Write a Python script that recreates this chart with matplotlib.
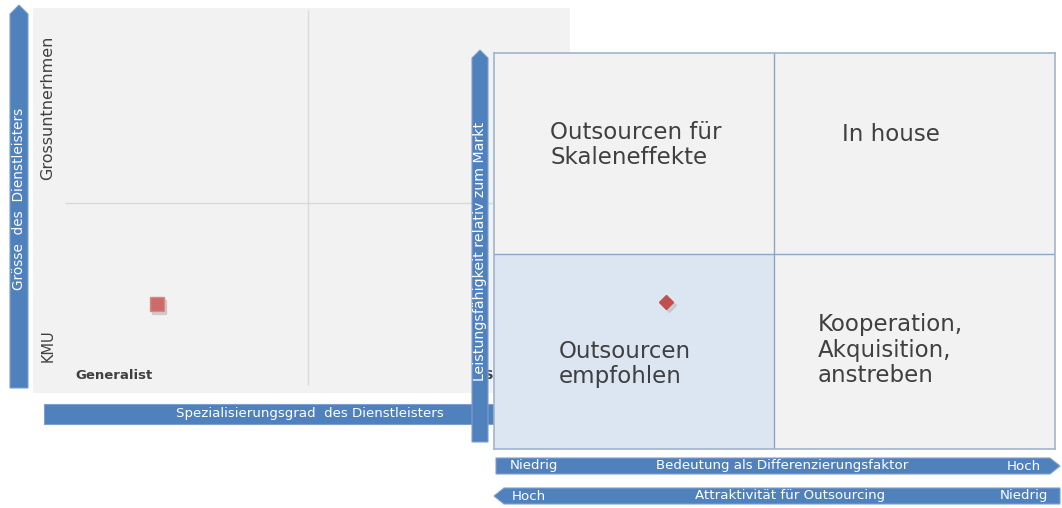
import matplotlib.pyplot as plt
from matplotlib.patches import Polygon, Rectangle

# --- DATEN ---
left_axis_title = "Grösse  des  Dienstleisters"
left_x_title = "Spezialisierungsgrad  des Dienstleisters"
left_y_labels = ["KMU", "Grossuntnerhmen"]
left_x_labels = ["Generalist", "Spezialist"]
left_point = (0.46, 0.46)          # (Spezialisierung, Grösse), Skala 0..2

right_y_title = "Leistungsfähigkeit relativ zum Markt"
right_x_title = "Bedeutung als Differenzierungsfaktor"
right_x_ends = ["Niedrig", "Hoch"]
second_title = "Attraktivität für Outsourcing"
second_ends = ["Hoch", "Niedrig"]
quadrant_labels = ["Outsourcen für\nSkaleneffekte", "In house",
                   "Outsourcen\nempfohlen", "Kooperation,\nAkquisition,\nanstreben"]
quadrant_pos = [(0.20, 1.535), (1.24, 1.59), (0.23, 0.43), (1.155, 0.50)]
right_point = (0.613, 0.742)       # (Differenzierung, Leistungsfähigkeit), Skala 0..2

BLUE = "#4f81bd"
W, H = 1062, 508

fig = plt.figure(figsize=(W / 100, H / 100), dpi=100)


def px_axes(x0, y0, x1, y1, z):
    """Achse an Pixelposition (y von oben)."""
    ax = fig.add_axes([x0 / W, 1 - y1 / H, (x1 - x0) / W, (y1 - y0) / H])
    ax.set_zorder(z)
    return ax


# --- Hintergrund (Pfeile der linken Matrix) ---
bg = px_axes(0, 0, W, H, 0)
bg.set_xlim(0, W)
bg.set_ylim(H, 0)
bg.axis("off")
bg.add_patch(Polygon([(10, 388), (10, 14), (19, 5), (28, 14), (28, 388)],
                     closed=True, fc=BLUE, ec="#7f9fcf", lw=0.8))
bg.text(19, 199, left_axis_title, rotation=90, color="white", fontsize=9.8,
        ha="center", va="center")
bg.add_patch(Rectangle((44, 404), 460, 20, fc=BLUE, ec="#7f9fcf", lw=0.8))
bg.text(310, 414, left_x_title, color="white", fontsize=9.6, ha="center", va="center")

# --- linke Matrix ---
axl = px_axes(33, 8, 570, 393, 1)
axl.set_xlim(0, 2)
axl.set_ylim(0, 2)
axl.set_facecolor("#f2f2f2")
for s in axl.spines.values():
    s.set_visible(False)
axl.set_xticks([])
axl.set_yticks([])
axl.hlines(0.987, 0.12, 2, color="#d9d9d9", lw=1)
axl.vlines(1.024, 0.04, 1.99, color="#d9d9d9", lw=1)
axl.text(0.056, 1.48, left_y_labels[1], rotation=90, ha="center", va="center",
         fontsize=11.5, color="#404040")
axl.text(0.056, 0.245, left_y_labels[0], rotation=90, ha="center", va="center",
         fontsize=10.5, color="#404040")
axl.text(0.156, 0.09, left_x_labels[0], ha="left", va="center", fontsize=9.5,
         fontweight="bold", color="#404040")
axl.text(1.68, 0.09, left_x_labels[1], ha="left", va="center", fontsize=9.5,
         fontweight="bold", color="#404040")
axl.plot(left_point[0] + 0.01, left_point[1] - 0.015, "s", ms=10, color="#bbbbbb",
         alpha=0.6)
axl.plot(*left_point, "s", ms=10, color="#cd6b6b", mec="#d98888")

# --- Pfeile der rechten Matrix ---
fg = px_axes(0, 0, W, H, 2)
fg.set_xlim(0, W)
fg.set_ylim(H, 0)
fg.axis("off")
fg.patch.set_alpha(0)
fg.add_patch(Polygon([(472, 442), (472, 58), (480, 50), (488, 58), (488, 442)],
                     closed=True, fc=BLUE, ec="#7f9fcf", lw=0.8))
fg.text(480, 251, right_y_title, rotation=90, color="white", fontsize=10.2,
        ha="center", va="center")
fg.add_patch(Polygon([(496, 458), (1050, 458), (1060, 466), (1050, 474), (496, 474)],
                     closed=True, fc=BLUE, ec="#7f9fcf", lw=0.8))
fg.text(510, 466, right_x_ends[0], color="white", fontsize=9.6, va="center", ha="left")
fg.text(782, 466, right_x_title, color="white", fontsize=9.6, va="center", ha="center")
fg.text(1041, 466, right_x_ends[1], color="white", fontsize=9.6, va="center", ha="right")
fg.add_patch(Polygon([(504, 488), (1060, 488), (1060, 504), (504, 504), (494, 496)],
                     closed=True, fc=BLUE, ec="#7f9fcf", lw=0.8))
fg.text(512, 496, second_ends[0], color="white", fontsize=9.6, va="center", ha="left")
fg.text(790, 496, second_title, color="white", fontsize=9.6, va="center", ha="center")
fg.text(1048, 496, second_ends[1], color="white", fontsize=9.6, va="center", ha="right")

# --- rechte Matrix ---
axr = px_axes(494, 53, 1055, 449, 3)
axr.set_xlim(0, 2)
axr.set_ylim(0, 2)
axr.set_xticks([])
axr.set_yticks([])
axr.set_facecolor("#f2f2f2")
for s in axr.spines.values():
    s.set_color("#9fb4cf")
    s.set_linewidth(1.2)
axr.bar(0, 0.985, width=0.998, align="edge", color="#dce6f2", zorder=0)
axr.axvline(0.998, color="#8ea6c4", lw=1)
axr.axhline(0.985, color="#8ea6c4", lw=1)
for lab, (x, y) in zip(quadrant_labels, quadrant_pos):
    axr.text(x, y, lab, ha="left", va="center", fontsize=16.5, color="#404040",
             linespacing=1.12)
axr.plot(right_point[0] + 0.01, right_point[1] - 0.015, "D", ms=7, color="#bbbbbb",
         alpha=0.6)
axr.plot(*right_point, "D", ms=7, color="#c0504d")

fig.savefig("out.png", dpi=100)
